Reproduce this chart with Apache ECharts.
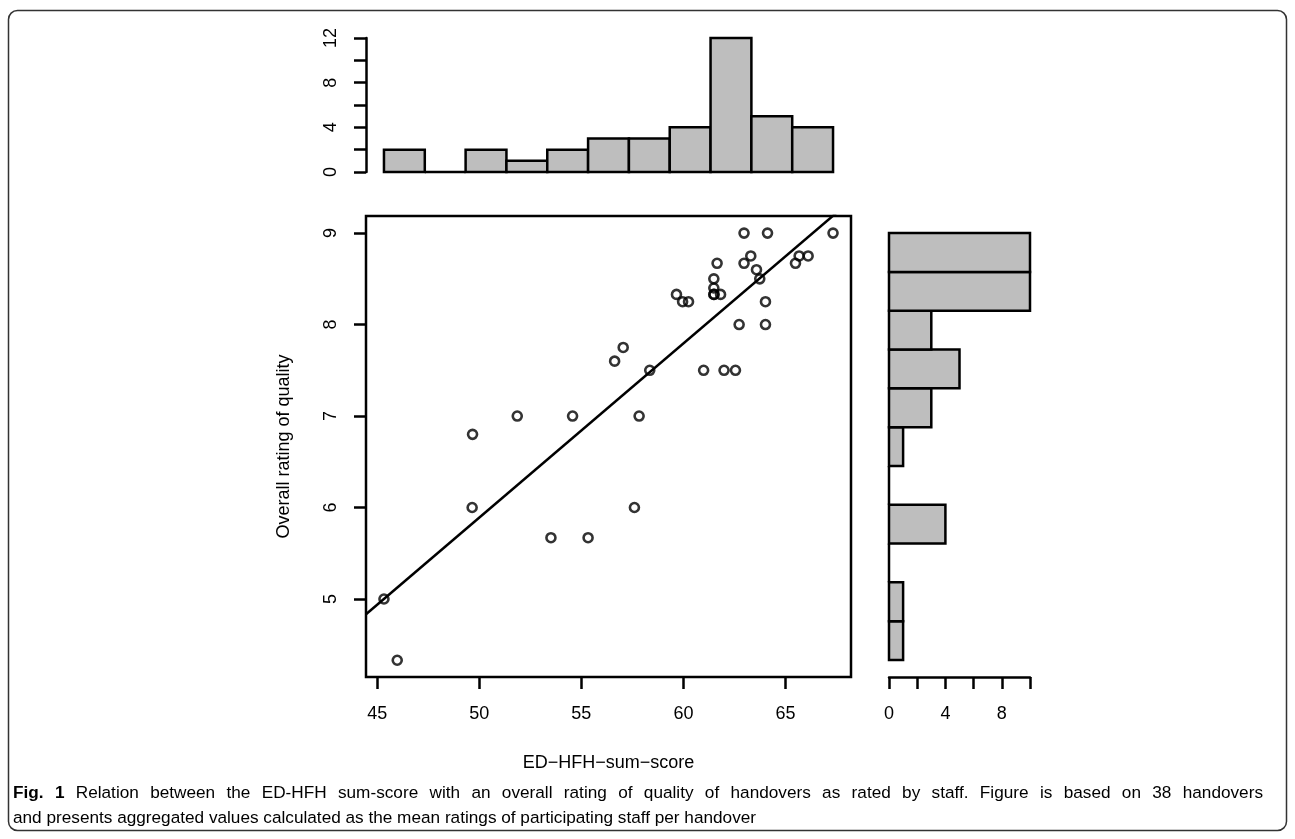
<!DOCTYPE html>
<html><head><meta charset="utf-8">
<script src="https://cdn.jsdelivr.net/npm/echarts@6/dist/echarts.min.js"></script>
<style>html,body{margin:0;padding:0;background:#fff}#c{width:1295px;height:839px}</style>
</head><body><div id="c"></div>
<script>
// ---- data ----
const xScores = [45.33, 45.98, 49.65, 49.67, 51.86, 53.51, 54.57, 55.33, 56.63, 57.05,
                 57.6, 57.83, 58.35, 59.66, 59.96, 60.25, 60.99, 61.49, 61.49, 61.49,
                 61.5, 61.65, 61.82, 61.99, 62.55, 62.73, 62.97, 62.97, 63.30, 63.58,
                 63.74, 64.02, 64.02, 64.12, 65.49, 65.67, 66.11, 67.33];
const ratings = [5.0, 4.33, 6.0, 6.8, 7.0, 5.67, 7.0, 5.67, 7.6, 7.75,
                 6.0, 7.0, 7.5, 8.33, 8.25, 8.25, 7.5, 8.5, 8.4, 8.33,
                 8.33, 8.67, 8.33, 7.5, 7.5, 8.0, 9.0, 8.67, 8.75, 8.6,
                 8.5, 8.25, 8.0, 9.0, 8.67, 8.75, 8.75, 9.0];
const xHistCounts = [2, 0, 2, 1, 2, 3, 3, 4, 12, 5, 4];
const xBinStart = 45.33, xBinWidth = 2.0;
const yHistCounts = [1, 1, 0, 4, 0, 1, 3, 5, 3, 10, 10];   // bottom to top
const yBinStart = 4.333, yBinWidth = 0.4243;
const fitIntercept = -3.63, fitSlope = 0.1904;
const xTicks = [45, 50, 55, 60, 65];
const yTicks = [5, 6, 7, 8, 9];
const topCountTicks = [0, 2, 4, 6, 8, 10, 12];
const topCountLabels = [0, 4, 8, 12];
const rightCountTicks = [0, 2, 4, 6, 8, 10];
const rightCountLabels = [0, 4, 8];
const xTitle = 'ED\u2212HFH\u2212sum\u2212score';
const yTitle = 'Overall rating of quality';
const captionBold = 'Fig. 1';
const captionLine1 = 'Relation between the ED-HFH sum-score with an overall rating of quality of handovers as rated by staff. Figure is based on 38 handovers';
const captionLine2 = 'and presents aggregated values calculated as the mean ratings of participating staff per handover';

// ---- build ----
const xMin = 44.45, xMax = 68.21, yMin = 4.147, yMax = 9.187;
const FONT = '"Liberation Sans", Arial, Helvetica, sans-serif';
const LW = 2.5;
const points = xScores.map((x, i) => [x, ratings[i]]);
const topBins = xHistCounts.map((c, i) => [xBinStart + i * xBinWidth, xBinStart + (i + 1) * xBinWidth, c]);
const rightBins = yHistCounts.map((c, i) => [yBinStart + i * yBinWidth, yBinStart + (i + 1) * yBinWidth, c]);
const fitLine = [xMin, xMax].map(x => [x, fitIntercept + fitSlope * x]);

const tickStyle = {lineStyle: {color: '#000', width: LW}, length: 12};
const labelStyle = {color: '#000', fontSize: 18, fontFamily: FONT};

function barShape(p0, p1) {
  const w = p1[0] - p0[0], h = p1[1] - p0[1];
  if (Math.abs(w) < 0.5 || Math.abs(h) < 0.5) {
    return {type: 'line', shape: {x1: p0[0], y1: p0[1], x2: p1[0], y2: p1[1]},
            style: {stroke: '#000', lineWidth: LW}};
  }
  return {type: 'rect', shape: {x: p0[0], y: p0[1], width: w, height: h},
          style: {fill: '#bebebe', stroke: '#000', lineWidth: LW}};
}

// caption, justified first line
const CAP_SIZE = 17.2, CAP_LEFT = 13, CAP_RIGHT = 1263, CAP_TOP1 = 785, CAP_TOP2 = 810;
const mctx = document.createElement('canvas').getContext('2d');
const regFont = CAP_SIZE + 'px ' + FONT, boldFont = 'bold ' + CAP_SIZE + 'px ' + FONT;
const capWords = captionBold.split(' ').map(w => ({t: w, b: true}))
  .concat(captionLine1.split(' ').map(w => ({t: w, b: false})));
let wordsW = 0;
capWords.forEach(w => { mctx.font = w.b ? boldFont : regFont; w.w = mctx.measureText(w.t).width; wordsW += w.w; });
const gapW = (CAP_RIGHT - CAP_LEFT - wordsW) / (capWords.length - 1);
const captionEls = [];
let cx = CAP_LEFT;
capWords.forEach(w => {
  captionEls.push({type: 'text', x: cx, y: CAP_TOP1,
    style: {text: w.t, fill: '#000', fontSize: CAP_SIZE, fontFamily: FONT, fontWeight: w.b ? 'bold' : 'normal'}});
  cx += w.w + gapW;
});
captionEls.push({type: 'text', x: CAP_LEFT, y: CAP_TOP2,
  style: {text: captionLine2, fill: '#000', fontSize: CAP_SIZE, fontFamily: FONT}});

const chart = echarts.init(document.getElementById('c'), null, {renderer: 'canvas'});
chart.setOption({
  animation: false,
  backgroundColor: '#fff',
  grid: [
    {left: 366, top: 216, width: 485, height: 461, show: true, borderColor: '#000', borderWidth: LW, backgroundColor: 'transparent'},
    {left: 366, top: 38, width: 485, height: 134},
    {left: 889, top: 216, width: 141, height: 461}
  ],
  xAxis: [
    {gridIndex: 0, type: 'value', min: xMin, max: xMax, splitLine: {show: false},
     axisLine: {show: false},
     axisTick: Object.assign({show: true, customValues: xTicks}, tickStyle),
     axisLabel: Object.assign({customValues: xTicks, margin: 28}, labelStyle),
     name: xTitle, nameLocation: 'middle', nameGap: 77,
     nameTextStyle: {color: '#000', fontSize: 18, fontFamily: FONT}},
    {gridIndex: 1, type: 'value', min: xMin, max: xMax, show: false},
    {gridIndex: 2, type: 'value', min: 0, max: 10, splitLine: {show: false},
     axisLine: {show: true, lineStyle: {color: '#000', width: LW}},
     axisTick: Object.assign({show: true, customValues: rightCountTicks}, tickStyle),
     axisLabel: Object.assign({customValues: rightCountLabels, margin: 28}, labelStyle)}
  ],
  yAxis: [
    {gridIndex: 0, type: 'value', min: yMin, max: yMax, splitLine: {show: false},
     axisLine: {show: false},
     axisTick: Object.assign({show: true, customValues: yTicks}, tickStyle),
     axisLabel: Object.assign({customValues: yTicks, rotate: 90, margin: 26}, labelStyle),
     name: yTitle, nameLocation: 'middle', nameGap: 73, nameRotate: 90,
     nameTextStyle: {color: '#000', fontSize: 18, fontFamily: FONT}},
    {gridIndex: 1, type: 'value', min: 0, max: 12, splitLine: {show: false},
     axisLine: {show: true, lineStyle: {color: '#000', width: LW}},
     axisTick: Object.assign({show: true, customValues: topCountTicks}, tickStyle),
     axisLabel: Object.assign({customValues: topCountLabels, rotate: 90, margin: 26}, labelStyle)},
    {gridIndex: 2, type: 'value', min: yMin, max: yMax, show: false}
  ],
  series: [
    {type: 'scatter', xAxisIndex: 0, yAxisIndex: 0, data: points, symbol: 'circle', symbolSize: 9,
     itemStyle: {color: 'rgba(0,0,0,0)', borderColor: '#000', borderWidth: 2.6}, z: 5},
    {type: 'line', xAxisIndex: 0, yAxisIndex: 0, data: fitLine, showSymbol: false, symbol: 'none', clip: true,
     lineStyle: {color: '#000', width: LW}, z: 4},
    {type: 'custom', xAxisIndex: 1, yAxisIndex: 1, data: topBins, encode: {x: [0, 1], y: 2},
     renderItem: function (params, api) {
       return barShape(api.coord([api.value(0), api.value(2)]), api.coord([api.value(1), 0]));
     }},
    {type: 'custom', xAxisIndex: 2, yAxisIndex: 2, data: rightBins, encode: {x: 2, y: [0, 1]},
     renderItem: function (params, api) {
       return barShape(api.coord([0, api.value(1)]), api.coord([api.value(2), api.value(0)]));
     }}
  ],
  graphic: [
    {type: 'rect', z: -10, shape: {x: 8.5, y: 10.5, width: 1278, height: 820, r: 9},
     style: {fill: 'none', stroke: '#333', lineWidth: 1.5}}
  ].concat(captionEls)
});
</script></body></html>
